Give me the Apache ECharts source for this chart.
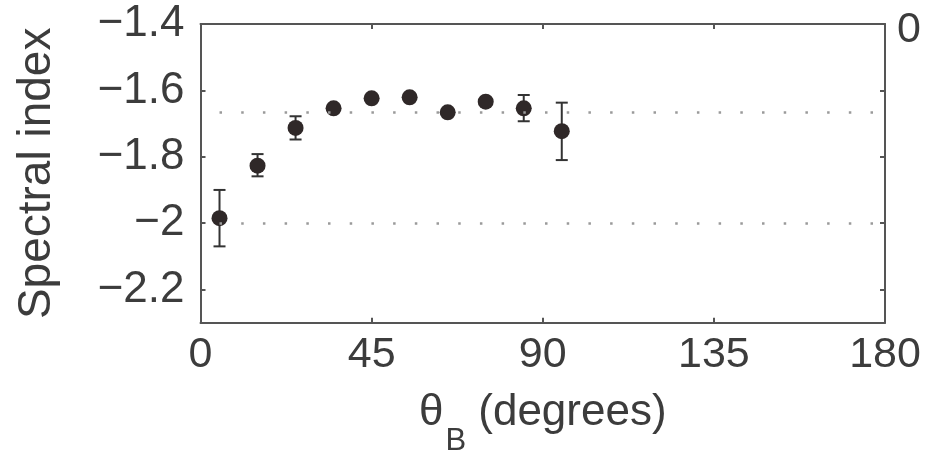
<!DOCTYPE html>
<html><head><meta charset="utf-8">
<script src="https://cdn.jsdelivr.net/npm/echarts@6/dist/echarts.min.js"></script>
<style>html,body{margin:0;padding:0;background:#fff}#c{width:935px;height:450px}</style>
</head><body><div id="c"></div>
<script>
// Data
var thetaB = [5, 15, 25, 35, 45, 55, 65, 75, 85, 95];
var spectralIndex = [-1.985, -1.827, -1.713, -1.654, -1.624, -1.621, -1.666, -1.634, -1.654, -1.723];
var errLow = [-2.07, -1.859, -1.748, -1.664, -1.632, -1.629, -1.674, -1.642, -1.693, -1.81];
var errHigh = [-1.90, -1.792, -1.678, -1.644, -1.616, -1.613, -1.658, -1.626, -1.614, -1.637];
var refLines = [-5/3, -2.0];
var refLineStart = 5, refLineEnd = 180;
var xTicks = [0, 45, 90, 135, 180];
var yTicks = [-2.2, -2.0, -1.8, -1.6, -1.4];
var rightLabel = '0';

var txt = '#3c3c3c', ax = '#555';
var font = 'Liberation Sans, Arial, Helvetica, sans-serif';
function fmtY(v){ var r = Math.round(v*10)/10; return (r<0?'\u2212':'') + String(Math.abs(r)); }

var chart = echarts.init(document.getElementById('c'), null, {renderer:'canvas'});
var pts = thetaB.map(function(x,i){ return [x, spectralIndex[i]]; });
var errs = thetaB.map(function(x,i){ return [x, errLow[i], errHigh[i]]; });

chart.setOption({
  animation:false,
  backgroundColor:'#fff',
  grid:{left:200.5, right:50, top:24, bottom:127.3, containLabel:false, outerBoundsMode:'none'},
  xAxis:[{
    type:'value', min:0, max:180, interval:45, position:'bottom',
    axisLine:{show:true, onZero:false, lineStyle:{color:ax, width:2}},
    axisTick:{show:true, inside:true, length:5, lineStyle:{color:ax, width:2}, customValues:xTicks.slice(1,4)},
    axisLabel:{color:txt, fontSize:43, fontFamily:font, margin:11, customValues:xTicks},
    splitLine:{show:false},
    name:'{t|\u03B8}{s|B}{t| (degrees)}', nameLocation:'middle', nameGap:68,
    nameTextStyle:{rich:{t:{fontSize:44, color:txt, fontFamily:font, verticalAlign:'bottom', padding:[0,0,0,0]},
      s:{fontSize:31, color:txt, fontFamily:font, verticalAlign:'bottom', padding:[0,0,-22,2]}}}
  },{
    type:'value', min:0, max:180, interval:45, position:'top',
    axisLine:{show:true, onZero:false, lineStyle:{color:ax, width:2}},
    axisTick:{show:true, inside:true, length:5, lineStyle:{color:ax, width:2}, customValues:xTicks.slice(1,4)},
    axisLabel:{show:false}, splitLine:{show:false}
  }],
  yAxis:[{
    type:'value', min:-2.3, max:-1.4, position:'left',
    axisLine:{show:true, onZero:false, lineStyle:{color:ax, width:2}},
    axisTick:{show:true, inside:true, length:5, lineStyle:{color:ax, width:2}, customValues:yTicks},
    axisLabel:{color:txt, fontSize:44, fontFamily:font, margin:16, formatter:fmtY, customValues:yTicks},
    splitLine:{show:false},
    name:'Spectral index', nameLocation:'middle', nameGap:140,
    nameTextStyle:{fontSize:46, color:txt, fontFamily:font}
  },{
    type:'value', min:-2.3, max:-1.4, position:'right',
    axisLine:{show:true, onZero:false, lineStyle:{color:ax, width:2}},
    axisTick:{show:true, inside:true, length:5, lineStyle:{color:ax, width:2}, customValues:yTicks},
    axisLabel:{show:false}, splitLine:{show:false}
  }],
  graphic:[{type:'text', left:897, top:9, style:{text:rightLabel, fontSize:43, fontFamily:font, fill:txt}}],
  series:[{
    type:'custom', xAxisIndex:0, yAxisIndex:0, z:3,
    data:errs,
    renderItem:function(params, api){
      var lo = api.coord([api.value(0), api.value(1)]);
      var hi = api.coord([api.value(0), api.value(2)]);
      var cw = 6, st = {stroke:'#333', lineWidth:2};
      return {type:'group', children:[
        {type:'line', shape:{x1:lo[0], y1:lo[1], x2:hi[0], y2:hi[1]}, style:st},
        {type:'line', shape:{x1:lo[0]-cw, y1:lo[1], x2:lo[0]+cw, y2:lo[1]}, style:st},
        {type:'line', shape:{x1:hi[0]-cw, y1:hi[1], x2:hi[0]+cw, y2:hi[1]}, style:st}
      ]};
    }
  },{
    type:'scatter', xAxisIndex:0, yAxisIndex:0, z:4,
    data:pts, symbol:'circle', symbolSize:16,
    itemStyle:{color:'#2f2828', opacity:1},
    markLine:{silent:true, symbol:'none', label:{show:false},
      lineStyle:{color:'#9a9a9a', width:2.5, type:[2.5,19.2]},
      data:refLines.map(function(y){ return [{coord:[refLineStart,y]},{coord:[refLineEnd,y]}]; })}
  }]
});
</script></body></html>
